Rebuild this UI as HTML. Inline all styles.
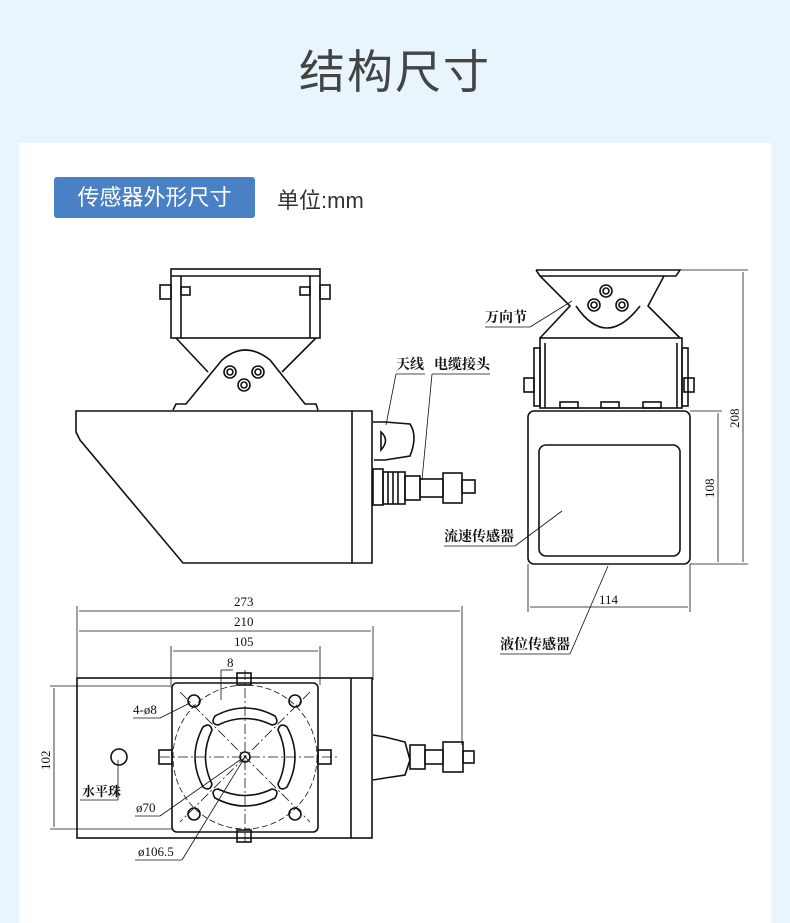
<!DOCTYPE html>
<html><head><meta charset="utf-8"><style>
html,body{margin:0;padding:0;}
body{width:790px;height:899px;background:#e9f5fd;position:relative;overflow:hidden;font-family:"Liberation Sans","Noto Sans CJK SC",sans-serif;}
.title{position:absolute;left:0;width:790px;top:36px;text-align:center;font-size:46px;color:#444;letter-spacing:2px;}
.card{position:absolute;left:19px;top:143px;width:752px;height:780px;background:#fff;}
.badge{position:absolute;left:54px;top:177px;width:201px;height:41px;background:#4a80c4;border-radius:3px;color:#fff;font-size:22px;line-height:41px;text-align:center;}
.unit{position:absolute;left:277px;top:183px;font-size:22px;color:#333;}
svg{position:absolute;left:0;top:0;}
</style></head><body>
<div class="title">结构尺寸</div>
<div class="card"></div>
<div class="badge">传感器外形尺寸</div>
<div class="unit">单位:mm</div>
<svg width="790" height="899" viewBox="0 0 790 899" fill="none" stroke="#111" stroke-width="1.6" font-family="Liberation Serif, Noto Serif CJK SC, serif">
<!-- SIDE VIEW -->
<rect x="171" y="269" width="149" height="69"/>
<line x1="171" y1="276" x2="320" y2="276"/>
<line x1="181" y1="276" x2="181" y2="338"/><line x1="310" y1="276" x2="310" y2="338"/>
<rect x="160" y="285" width="11" height="14"/><rect x="320" y="285" width="10" height="14"/>
<rect x="181" y="287" width="9" height="8"/><rect x="300" y="287" width="10" height="8"/>
<line x1="176" y1="338" x2="208" y2="372"/><line x1="316" y1="338" x2="282" y2="372"/>
<path d="M173 410 L176 404 L186 404 L222 360 Q245 340 270 360 L305 404 L316 404 L318 410"/>
<circle cx="230" cy="372" r="6"/><circle cx="230" cy="372" r="3"/>
<circle cx="258" cy="372" r="6"/><circle cx="258" cy="372" r="3"/>
<circle cx="244" cy="385" r="6"/><circle cx="244" cy="385" r="3"/>
<path d="M76 411 L372 411 L372 563 L183 563 L80 440 L76 432 Z"/>
<line x1="352" y1="411" x2="352" y2="563"/>
<path d="M373 422 L385 422 L410 424 Q418 436 410 456 L385 460 L374 460"/>
<path d="M381 432 Q390 440 381 450 Z"/>
<rect x="373" y="469" width="10" height="36"/>
<rect x="383" y="472" width="22" height="32"/>
<rect x="405" y="476" width="15" height="24"/>
<rect x="420" y="479" width="23" height="18"/>
<rect x="443" y="473" width="19" height="30"/>
<rect x="462" y="480" width="13" height="13"/>
<line x1="388" y1="472" x2="388" y2="504"/><line x1="393" y1="472" x2="393" y2="504"/><line x1="398" y1="472" x2="398" y2="504"/>
<g stroke-width="0.8"><line x1="386" y1="425" x2="396" y2="374"/><line x1="396" y1="374" x2="425" y2="374"/>
<line x1="422" y1="480" x2="432" y2="374"/><line x1="432" y1="374" x2="490" y2="374"/></g>
<g fill="#111" stroke="none" font-size="14" font-weight="bold"><text x="396" y="369">天线</text><text x="434" y="369">电缆接头</text></g>

<!-- FRONT VIEW -->
<path d="M536 270 L680 270 L676 276 L664 276 L648 306 L680 338 M540 338 L570 306 L540 276 L536 270"/>
<path d="M576 306 Q606 350 640 306" />
<path d="M540 276 L664 276"/>
<circle cx="606" cy="291" r="6"/><circle cx="606" cy="291" r="3"/>
<circle cx="594" cy="305" r="6"/><circle cx="594" cy="305" r="3"/>
<circle cx="622" cy="305" r="6"/><circle cx="622" cy="305" r="3"/>
<rect x="540" y="338" width="142" height="70"/>
<line x1="545" y1="343" x2="545" y2="408"/><line x1="677" y1="343" x2="677" y2="408"/>
<rect x="524" y="378" width="10" height="14"/><rect x="684" y="378" width="10" height="14"/>
<rect x="534" y="348" width="6" height="58"/><rect x="682" y="348" width="6" height="58"/>
<rect x="560" y="402" width="18" height="6"/><rect x="601" y="402" width="18" height="6"/><rect x="643" y="402" width="18" height="6"/>
<rect x="528" y="411" width="162" height="153" rx="6"/>
<rect x="539" y="445" width="141" height="111" rx="7"/>
<g stroke-width="0.8">
<line x1="680" y1="270" x2="748" y2="270"/><line x1="690" y1="564" x2="748" y2="564"/>
<line x1="743" y1="272" x2="743" y2="562"/>
<line x1="690" y1="411" x2="722" y2="411"/><line x1="718" y1="413" x2="718" y2="562"/>
<line x1="528" y1="564" x2="528" y2="612"/><line x1="690" y1="564" x2="690" y2="612"/>
<line x1="530" y1="607" x2="688" y2="607"/>
<line x1="572" y1="301" x2="530" y2="327"/><line x1="530" y1="327" x2="485" y2="327"/>
<line x1="562" y1="511" x2="515" y2="546"/><line x1="515" y1="546" x2="444" y2="546"/>
<line x1="608" y1="566" x2="570" y2="654"/><line x1="570" y1="654" x2="500" y2="654"/>
</g>
<g fill="#111" stroke="none" font-size="14" font-weight="bold">
<text x="485" y="322">万向节</text><text x="444" y="541">流速传感器</text><text x="500" y="649">液位传感器</text>
</g>
<g fill="#111" stroke="none" font-size="13">
<text x="599" y="604">114</text>
<text transform="translate(739,428) rotate(-90)">208</text>
<text transform="translate(714,498) rotate(-90)">108</text>
</g>

<!-- BOTTOM VIEW -->
<g stroke-width="0.8">
<line x1="77" y1="606" x2="77" y2="678"/><line x1="462" y1="606" x2="462" y2="745"/>
<line x1="79" y1="611" x2="460" y2="611"/>
<line x1="373" y1="626" x2="373" y2="680"/><line x1="79" y1="631" x2="371" y2="631"/>
<line x1="171" y1="646" x2="171" y2="685"/><line x1="320" y1="646" x2="320" y2="685"/>
<line x1="173" y1="651" x2="318" y2="651"/>
<line x1="221" y1="670" x2="233" y2="670"/><line x1="221" y1="670" x2="221" y2="700"/>
<line x1="50" y1="686" x2="172" y2="686"/><line x1="50" y1="829" x2="172" y2="829"/>
<line x1="54" y1="688" x2="54" y2="827"/>
<line x1="190" y1="703" x2="160" y2="718"/><line x1="160" y1="718" x2="133" y2="718"/>
<line x1="118" y1="760" x2="118" y2="800"/><line x1="118" y1="800" x2="80" y2="800"/>
<line x1="240" y1="760" x2="160" y2="816"/><line x1="160" y1="816" x2="135" y2="816"/>
<line x1="245" y1="757" x2="182" y2="860"/><line x1="182" y1="860" x2="135" y2="860"/>
<line x1="160" y1="757" x2="340" y2="757" stroke-dasharray="10 3 2 3"/>
<line x1="245" y1="670" x2="245" y2="845" stroke-dasharray="10 3 2 3"/>
<line x1="180" y1="692" x2="310" y2="822" stroke-dasharray="10 3 2 3"/>
<line x1="310" y1="692" x2="180" y2="822" stroke-dasharray="10 3 2 3"/>
<circle cx="245" cy="757" r="72" stroke-dasharray="6 3"/>
</g>
<rect x="77" y="678" width="295" height="160"/>
<line x1="351" y1="678" x2="351" y2="838"/>
<rect x="172" y="683" width="146" height="149" rx="5"/>
<rect x="237" y="673" width="14" height="12"/><rect x="237" y="830" width="14" height="12"/>
<rect x="159" y="750" width="13" height="14"/><rect x="318" y="750" width="13" height="14"/>
<circle cx="194" cy="701" r="6"/><circle cx="295" cy="701" r="6"/><circle cx="194" cy="814" r="6"/><circle cx="295" cy="814" r="6"/>
<circle cx="245" cy="757" r="5"/>
<circle cx="119" cy="757" r="8"/>
<path d="M215 716 Q245 700 275 716 Q280 724 272 725 Q245 712 218 725 Q210 724 215 716 Z"/>
<path d="M215 798 Q245 814 275 798 Q280 790 272 789 Q245 802 218 789 Q210 790 215 798 Z"/>
<path d="M203 727 Q187 757 203 787 Q210 792 212 784 Q199 757 212 730 Q210 722 203 727 Z"/>
<path d="M287 727 Q303 757 287 787 Q280 792 278 784 Q291 757 278 730 Q280 722 287 727 Z"/>
<path d="M373 735 L385 737 L405 742 L410 760 L405 775 L385 778 L373 780"/>
<rect x="410" y="745" width="15" height="24"/><rect x="425" y="750" width="18" height="14"/>
<rect x="443" y="742" width="20" height="30"/><rect x="463" y="751" width="11" height="12"/>
<g fill="#111" stroke="none" font-size="13">
<text x="234" y="606">273</text><text x="234" y="626">210</text><text x="234" y="646">105</text>
<text x="227" y="667">8</text><text x="133" y="714">4-ø8</text>
<text transform="translate(50,770) rotate(-90)">102</text>
<text x="82" y="796" font-weight="bold">水平珠</text><text x="136" y="812">ø70</text><text x="138" y="856">ø106.5</text>
</g>
</svg>
</body></html>
